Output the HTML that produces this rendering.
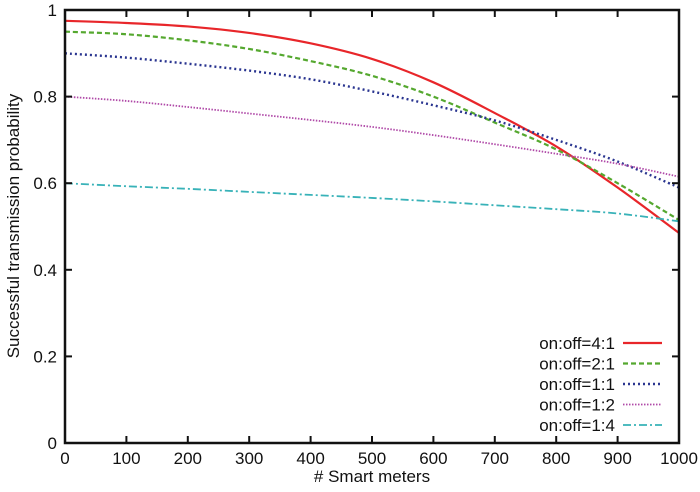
<!DOCTYPE html>
<html><head><meta charset="utf-8"><style>
body{margin:0;background:#fff}
svg text{font-family:"Liberation Sans",sans-serif;fill:#111}
</style></head><body>
<svg id="c" width="700" height="487" xmlns="http://www.w3.org/2000/svg"></svg>
<script>
const xTicks=[0,100,200,300,400,500,600,700,800,900,1000];
const yTicks=[0,0.2,0.4,0.6,0.8,1];
const yTickLabels=["0","0.2","0.4","0.6","0.8","1"];
const xs=[0,100,200,300,400,500,600,700,800,900,1000];
const s41=[0.975,0.97,0.962,0.947,0.923,0.887,0.833,0.762,0.685,0.59,0.485];
const s21=[0.95,0.944,0.93,0.91,0.882,0.848,0.8,0.74,0.678,0.6,0.515];
const s11=[0.90,0.89,0.876,0.86,0.84,0.812,0.78,0.745,0.70,0.65,0.59];
const s12=[0.80,0.79,0.776,0.761,0.746,0.73,0.711,0.69,0.668,0.645,0.615];
const s14=[0.60,0.593,0.587,0.58,0.573,0.566,0.558,0.549,0.54,0.53,0.512];
const seriesNames=["on:off=4:1","on:off=2:1","on:off=1:1","on:off=1:2","on:off=1:4"];
const NS="http://www.w3.org/2000/svg",svg=document.getElementById('c');
const L=65,R=679,T=10,B=443;
const X=v=>L+(v/1000)*(R-L), Y=v=>B-v*(B-T);
function mk(t,a,p){const e=document.createElementNS(NS,t);for(const k in a)e.setAttribute(k,a[k]);(p||svg).appendChild(e);return e;}
function smooth(pts){
 let d='M'+pts[0][0]+','+pts[0][1];
 for(let i=0;i<pts.length-1;i++){
  const p0=pts[Math.max(0,i-1)],p1=pts[i],p2=pts[i+1],p3=pts[Math.min(pts.length-1,i+2)];
  const c1=[p1[0]+(p2[0]-p0[0])/6,p1[1]+(p2[1]-p0[1])/6],c2=[p2[0]-(p3[0]-p1[0])/6,p2[1]-(p3[1]-p1[1])/6];
  d+=' C'+c1.join(',')+' '+c2.join(',')+' '+p2.join(',');
 }
 return d;
}
const styles=[
 {c:"#e8262a",d:"",w:2.2},{c:"#55a82f",d:"5,3",w:2.2},{c:"#2a3590",d:"2,3",w:2.4},
 {c:"#b04aa8",d:"1.5,1.5",w:1.8},{c:"#38b2b8",d:"8,3,2,3",w:1.8}];
const data=[s41,s21,s11,s12,s14];
data.forEach((s,i)=>{
 const p=mk('path',{d:smooth(s.map((v,j)=>[X(xs[j]),Y(v)])),fill:'none',stroke:styles[i].c,'stroke-width':styles[i].w,'stroke-dasharray':styles[i].d});
 
 
});
const f=mk('rect',{x:L,y:T,width:R-L,height:B-T,fill:'none',stroke:'#111','stroke-width':2.5});


xTicks.forEach(v=>{
 mk('line',{x1:X(v),x2:X(v),y1:B,y2:B-7,stroke:'#111','stroke-width':2});
 mk('line',{x1:X(v),x2:X(v),y1:T,y2:T+7,stroke:'#111','stroke-width':2});
 const t=mk('text',{x:X(v),y:B+21,'text-anchor':'middle','font-size':17});t.textContent=v;
 
 
});
yTicks.forEach((v,i)=>{
 mk('line',{x1:L,x2:L+7,y1:Y(v),y2:Y(v),stroke:'#111','stroke-width':2});
 mk('line',{x1:R,x2:R-7,y1:Y(v),y2:Y(v),stroke:'#111','stroke-width':2});
 const t=mk('text',{x:L-8,y:Y(v)+6,'text-anchor':'end','font-size':17});t.textContent=yTickLabels[i];
 
 
});
const xt=mk('text',{x:372,y:482,'text-anchor':'middle','font-size':17});xt.textContent='# Smart meters';


const yt=mk('text',{x:0,y:0,'text-anchor':'middle','font-size':17,transform:'translate(19,226) rotate(-90)'});yt.textContent='Successful transmission probability';


seriesNames.forEach((n,i)=>{
 const y=343+i*20.5;
 const g=mk('g',{});
 
 
 const t=mk('text',{x:615,y:y+6,'text-anchor':'end','font-size':17},g);t.textContent=n;
 mk('line',{x1:623,x2:662,y1:y,y2:y,stroke:styles[i].c,'stroke-width':styles[i].w,'stroke-dasharray':styles[i].d},g);
});
</script>
</body></html>
